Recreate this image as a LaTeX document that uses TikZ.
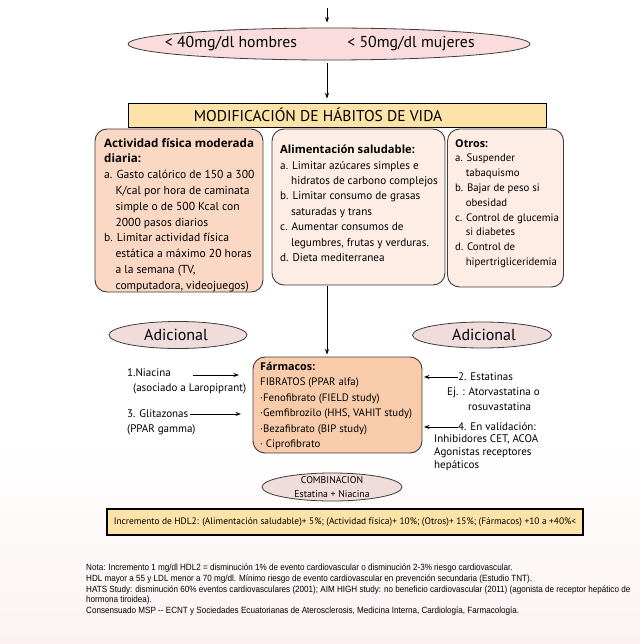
\documentclass[tikz,border=0pt]{standalone}
\usepackage{fontspec}
\setmainfont{PT Sans}
\newfontfamily\headfont{Open Sans}
\newfontfamily\notefont[FakeStretch=0.9]{Liberation Sans}
\usetikzlibrary{shapes.geometric,arrows.meta,calc}

\definecolor{edge}{HTML}{3C3C3C}
\definecolor{ovalpink}{HTML}{FADCDE}
\definecolor{ovalgray}{HTML}{F1DCDC}
\definecolor{bannerfill}{HTML}{FDE3A8}
\definecolor{peach}{HTML}{FAD8C4}
\definecolor{peachlight}{HTML}{FDEDE4}
\definecolor{farmfill}{HTML}{F8CCAA}
\definecolor{bgpink}{HTML}{FCF2F2}

\newcommand\myind{\hphantom{a.\ }}
\newcommand\headtxt[1]{{\headfont\bfseries #1}}

\tikzset{
  arr/.style={-{Stealth[length=5.5pt,width=4pt]}, line width=0.8pt, black},
  oval/.style={ellipse, draw=edge, line width=0.8pt, inner sep=0pt},
  card/.style={draw=edge, rounded corners=12pt, line width=0.9pt},
  body/.style={inner sep=0pt, align=left, anchor=north west},
  side/.style={inner sep=0pt, anchor=west, font=\fontsize{11}{14}\selectfont},
}

\begin{document}
\begin{tikzpicture}[x=1pt,y=-1pt]
\useasboundingbox (0,0) rectangle (640,644);

% faint tinted backdrop in the lower part
\shade[top color=white, bottom color=bgpink] (0,440) rectangle (640,644);

% threshold oval
\node[oval, fill=ovalpink, minimum width=402pt, minimum height=32pt] (rango) at (329,44) {};
\node[inner sep=0pt, font=\fontsize{15.8}{18}\selectfont] (hom) at (231,44) {< 40mg/dl hombres};
\node[inner sep=0pt, font=\fontsize{15.8}{18}\selectfont] (muj) at (411,44) {< 50mg/dl mujeres};

% axis of the main flow
\coordinate (axis) at (327,0);
\coordinate (top) at (327,8);
\draw[arr, shorten >=5pt] (top) -- (top |- rango.north);

% banner
\node[draw=black, fill=bannerfill, line width=0.9pt, minimum width=418pt, minimum height=24pt, inner sep=0pt] (banner) at (337,115) {};
\node[inner sep=0pt, font=\fontsize{15.6}{18}\selectfont] (bannertxt) at (318,115) {MODIFICACIÓN DE HÁBITOS DE VIDA};
\draw[arr, shorten <=3pt, shorten >=4pt] (rango.south -| axis) -- (banner.north -| axis);

% three lifestyle cards
\node[card, fill=peach, minimum width=168pt, minimum height=163pt, inner sep=0pt] (box1) at (179,210.5) {};
\node[card, fill=peachlight, minimum width=173pt, minimum height=156pt, inner sep=0pt] (box2) at (358.5,207) {};
\node[card, fill=peachlight, minimum width=116pt, minimum height=158pt, inner sep=0pt] (box3) at (505.5,208) {};

\node[body, font=\fontsize{11.6}{15.8}\selectfont] (t1) at (104,138) {%
\headtxt{Actividad física moderada}\\
\headtxt{diaria:}\\
a. Gasto calórico de 150 a 300\\
\myind K/cal por hora de caminata\\
\myind simple o de 500 Kcal con\\
\myind 2000 pasos diarios\\
b. Limitar actividad física\\
\myind estática a máximo 20 horas\\
\myind a la semana (TV,\\
\myind computadora, videojuegos)};

\node[body, font=\fontsize{11.2}{15.4}\selectfont] (t2) at (280,145) {%
\headtxt{Alimentación saludable:}\\
a. Limitar azúcares simples e\\
\myind hidratos de carbono complejos\\
b. Limitar consumo de grasas\\
\myind saturadas y trans\\
c. Aumentar consumos de\\
\myind legumbres, frutas y verduras.\\
d. Dieta mediterranea};

\node[body, font=\fontsize{10.8}{14.8}\selectfont] (t3) at (455,139) {%
\headtxt{Otros:}\\
a. Suspender\\
\myind tabaquismo\\
b. Bajar de peso si\\
\myind obesidad\\
c. Control de glucemia\\
\myind si diabetes\\
d. Control de\\
\myind hipertrigliceridemia};

% side labels
\node[oval, fill=ovalgray, minimum width=138pt, minimum height=27pt] (adl) at (178,335) {};
\node[inner sep=0pt, font=\fontsize{16}{18}\selectfont] (adltxt) at (176,335) {Adicional};
\node[oval, fill=ovalgray, minimum width=139pt, minimum height=26pt] (adr) at (482,335) {};
\node[inner sep=0pt, font=\fontsize{16}{18}\selectfont] (adrtxt) at (484,335) {Adicional};

% drug card
\node[card, fill=farmfill, minimum width=169pt, minimum height=96pt, inner sep=0pt] (farm) at (337.5,405) {};
\node[body, font=\fontsize{10.8}{15.4}\selectfont] (tf) at (260,362) {%
\headtxt{Fármacos:}\\
FIBRATOS (PPAR alfa)\\
·Fenofibrato (FIELD study)\\
·Gemfibrozilo (HHS, VAHIT study)\\
·Bezafibrato (BIP study)\\
· Ciprofibrato};
\draw[arr, shorten <=1pt, shorten >=2pt] (box2.south -| axis) -- (farm.north -| axis);

% left-hand additions
\node[side] (nia) at (127,373) {1.Niacina};
\node[side] (nia2) at (133,389) {(asociado a Laropiprant)};
\coordinate (niaa) at (193,375);
\coordinate (niab) at (239,375);
\draw[arr] (niaa) -- (niab);
\node[side] (gli) at (127,414) {3. Glitazonas};
\node[side] (gli2) at (127,430) {(PPAR gamma)};
\coordinate (glia) at (190,414);
\coordinate (glib) at (241,414);
\draw[arr] (glia) -- (glib);

% right-hand additions
\node[side] (est) at (458,377) {2. Estatinas};
\node[side] (est2) at (447,393) {Ej. : Atorvastatina o};
\node[side] (est3) at (468,407) {rosuvastatina};
\draw[arr, shorten >=1.5pt] (est.west) -- (est.west -| farm.east);
\node[side] (val) at (458,427) {4. En validación:};
\node[inner sep=0pt, anchor=north west, align=left, font=\fontsize{11}{13}\selectfont] (val2) at (434,434) {Inhibidores CET, ACOA\\Agonistas receptores\\hepáticos};
\draw[arr, shorten >=1.5pt] (val.west) -- (val.west -| farm.east);

% combination oval
\node[oval, fill=ovalgray, minimum width=140pt, minimum height=28pt] (comb) at (332,487) {};
\node[inner sep=0pt, align=center, font=\fontsize{9.8}{13.5}\selectfont] (combtxt) at (332,487) {COMBINACION\\Estatina + Niacina};

% HDL2 summary
\node[draw=black, fill=bannerfill, line width=1.6pt, minimum width=476pt, minimum height=26pt, inner sep=0pt] (resumen) at (345,522) {};
\node[inner sep=0pt, font=\fontsize{9.4}{11}\selectfont] (resumentxt) at (345,522) {Incremento de HDL2: (Alimentación saludable)+ 5\%; (Actividad física)+ 10\%; (Otros)+ 15\%; (Fármacos) +10 a +40\%<};

% footnotes
\node[inner sep=0pt, anchor=north west, align=left, font=\notefont\fontsize{9}{10.6}\selectfont] (notas) at (86,564) {%
Nota: Incremento 1 mg/dl HDL2 = disminución 1\% de evento cardiovascular o disminución 2-3\% riesgo cardiovascular.\\
HDL mayor a 55 y LDL menor a 70  mg/dl. Mínimo riesgo de evento cardiovascular en prevención secundaria (Estudio TNT).\\
HATS Study: disminución 60\% eventos cardiovasculares (2001);  AIM HIGH study: no beneficio cardiovascular (2011) (agonista de receptor hepático de\\
hormona tiroidea).\\
Consensuado MSP -- ECNT y Sociedades Ecuatorianas de Aterosclerosis, Medicina Interna, Cardiología, Farmacología.};

\end{tikzpicture}
\end{document}
